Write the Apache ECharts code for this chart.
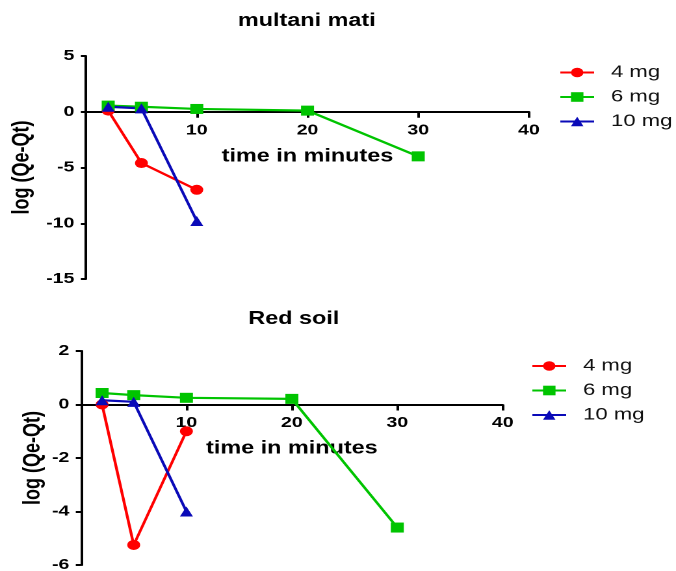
<!DOCTYPE html>
<html>
<head>
<meta charset="utf-8">
<script src="https://cdn.jsdelivr.net/npm/echarts@6/dist/echarts.min.js"></script>
<style>
  html, body { margin: 0; padding: 0; background: #fff; overflow: hidden; }
  /* the figure is drawn narrow and widened horizontally, giving its broad lettering */
  #chart { width: 520px; height: 571px; transform: scaleX(1.3); transform-origin: 0 0; }
</style>
</head>
<body>
<div id="chart"></div>
<script>
// Sampling times (minutes)
const timeMin = [2, 5, 10, 20, 30];
const seriesNames = ['4 mg', '6 mg', '10 mg'];

// multani mati: log (Qe-Qt)
const multani4mg = [0.1, -4.6, -7.0];
const multani6mg = [0.55, 0.45, 0.25, 0.1, -4.0];
const multani10mg = [0.45, 0.3, -9.8];

// Red soil: log (Qe-Qt)
const redSoil4mg = [0.0, -5.25, -1.0];
const redSoil6mg = [0.43, 0.35, 0.25, 0.21, -4.6];
const redSoil10mg = [0.16, 0.1, -4.0];

// Axis ranges
const xTicks = [0, 10, 20, 30, 40];
const topYTicks = [-15, -10, -5, 0, 5];
const bottomYTicks = [-6, -4, -2, 0, 2];

const FONT = "'Liberation Sans', Arial, Helvetica, sans-serif";
const colors = ['#ff0000', '#00c400', '#0a0ab8'];
const symbols = ['circle', 'rect', 'triangle'];

const CANVAS_H = 571;
const grids = [
  { left: 66.2, right: 113.1, top: 56, bottom: 292, outerBoundsMode: 'none' },
  { left: 62.3, right: 133.3, top: 351, bottom: 6, outerBoundsMode: 'none' }
];

function pairs(values) {
  return values.map((v, i) => [timeMin[i], v]);
}

function makeSeries(valuesList, gridIdx) {
  return valuesList.map((vals, k) => ({
    name: seriesNames[k],
    type: 'line',
    xAxisIndex: gridIdx,
    yAxisIndex: gridIdx,
    data: pairs(vals),
    symbol: symbols[k],
    symbolSize: 10,
    showAllSymbol: true,
    lineStyle: { color: colors[k], width: 2.2 },
    itemStyle: { color: colors[k] },
    emphasis: { disabled: true }
  }));
}

// Lift the time axis from the grid's bottom edge up to the y = 0 level
function zeroLift(gridIdx, ticks) {
  const g = grids[gridIdx];
  const h = CANVAS_H - g.top - g.bottom;
  const lo = ticks[0], hi = ticks[ticks.length - 1];
  return -h * (0 - lo) / (hi - lo);
}

function xAxis(gridIdx, yTicks, gap) {
  return {
    type: 'value', gridIndex: gridIdx, position: 'bottom',
    offset: zeroLift(gridIdx, yTicks),
    min: xTicks[0], max: xTicks[xTicks.length - 1], interval: 10,
    name: 'time in minutes', nameLocation: 'middle', nameGap: gap,
    nameMoveOverlap: false,
    nameTextStyle: { fontFamily: FONT, fontWeight: 'bold', fontSize: 18, color: '#000' },
    axisLine: { onZero: false, lineStyle: { color: '#000', width: 2 } },
    axisTick: { show: true, length: 6, lineStyle: { color: '#000', width: 2 } },
    axisLabel: { showMinLabel: false, margin: 11, fontFamily: FONT, fontWeight: 'bold', fontSize: 15, color: '#000' },
    splitLine: { show: false }
  };
}

function yAxis(gridIdx, ticks, interval, gap) {
  return {
    type: 'value', gridIndex: gridIdx,
    min: ticks[0], max: ticks[ticks.length - 1], interval: interval,
    name: 'log (Qe-Qt)', nameLocation: 'middle', nameGap: gap, nameRotate: 90,
    nameMoveOverlap: false,
    nameTextStyle: { fontFamily: FONT, fontWeight: 'bold', fontSize: 18, color: '#000' },
    axisLine: { show: true, onZero: false, lineStyle: { color: '#000', width: 2 } },
    axisTick: { show: true, length: 4, lineStyle: { color: '#000', width: 2 } },
    axisLabel: { margin: 9, fontFamily: FONT, fontWeight: 'bold', fontSize: 15, color: '#000' },
    splitLine: { show: false }
  };
}

function legend(left, top) {
  return {
    orient: 'vertical', left: left, top: top, padding: 0,
    data: seriesNames,
    itemWidth: 26, itemHeight: 12, itemGap: 7.5,
    selectedMode: false,
    textStyle: { fontFamily: FONT, fontSize: 17, color: '#111', padding: [0, 0, 0, 8] }
  };
}

const chart = echarts.init(document.getElementById('chart'), null, { renderer: 'canvas', devicePixelRatio: 2 });

chart.setOption({
  animation: false,
  backgroundColor: '#fff',
  title: [
    { text: 'multani mati', left: 236, top: 12, textAlign: 'center', padding: 0,
      textStyle: { fontFamily: FONT, fontWeight: 'bold', fontSize: 18, color: '#000' } },
    { text: 'Red soil', left: 226, top: 310, textAlign: 'center', padding: 0,
      textStyle: { fontFamily: FONT, fontWeight: 'bold', fontSize: 18, color: '#000' } }
  ],
  legend: [legend(430, 64), legend(408.5, 357.5)],
  grid: grids,
  xAxis: [xAxis(0, topYTicks, 36), xAxis(1, bottomYTicks, 35)],
  yAxis: [yAxis(0, topYTicks, 5, 40), yAxis(1, bottomYTicks, 2, 28)],
  series: [
    ...makeSeries([multani4mg, multani6mg, multani10mg], 0),
    ...makeSeries([redSoil4mg, redSoil6mg, redSoil10mg], 1)
  ]
});
</script>
</body>
</html>
